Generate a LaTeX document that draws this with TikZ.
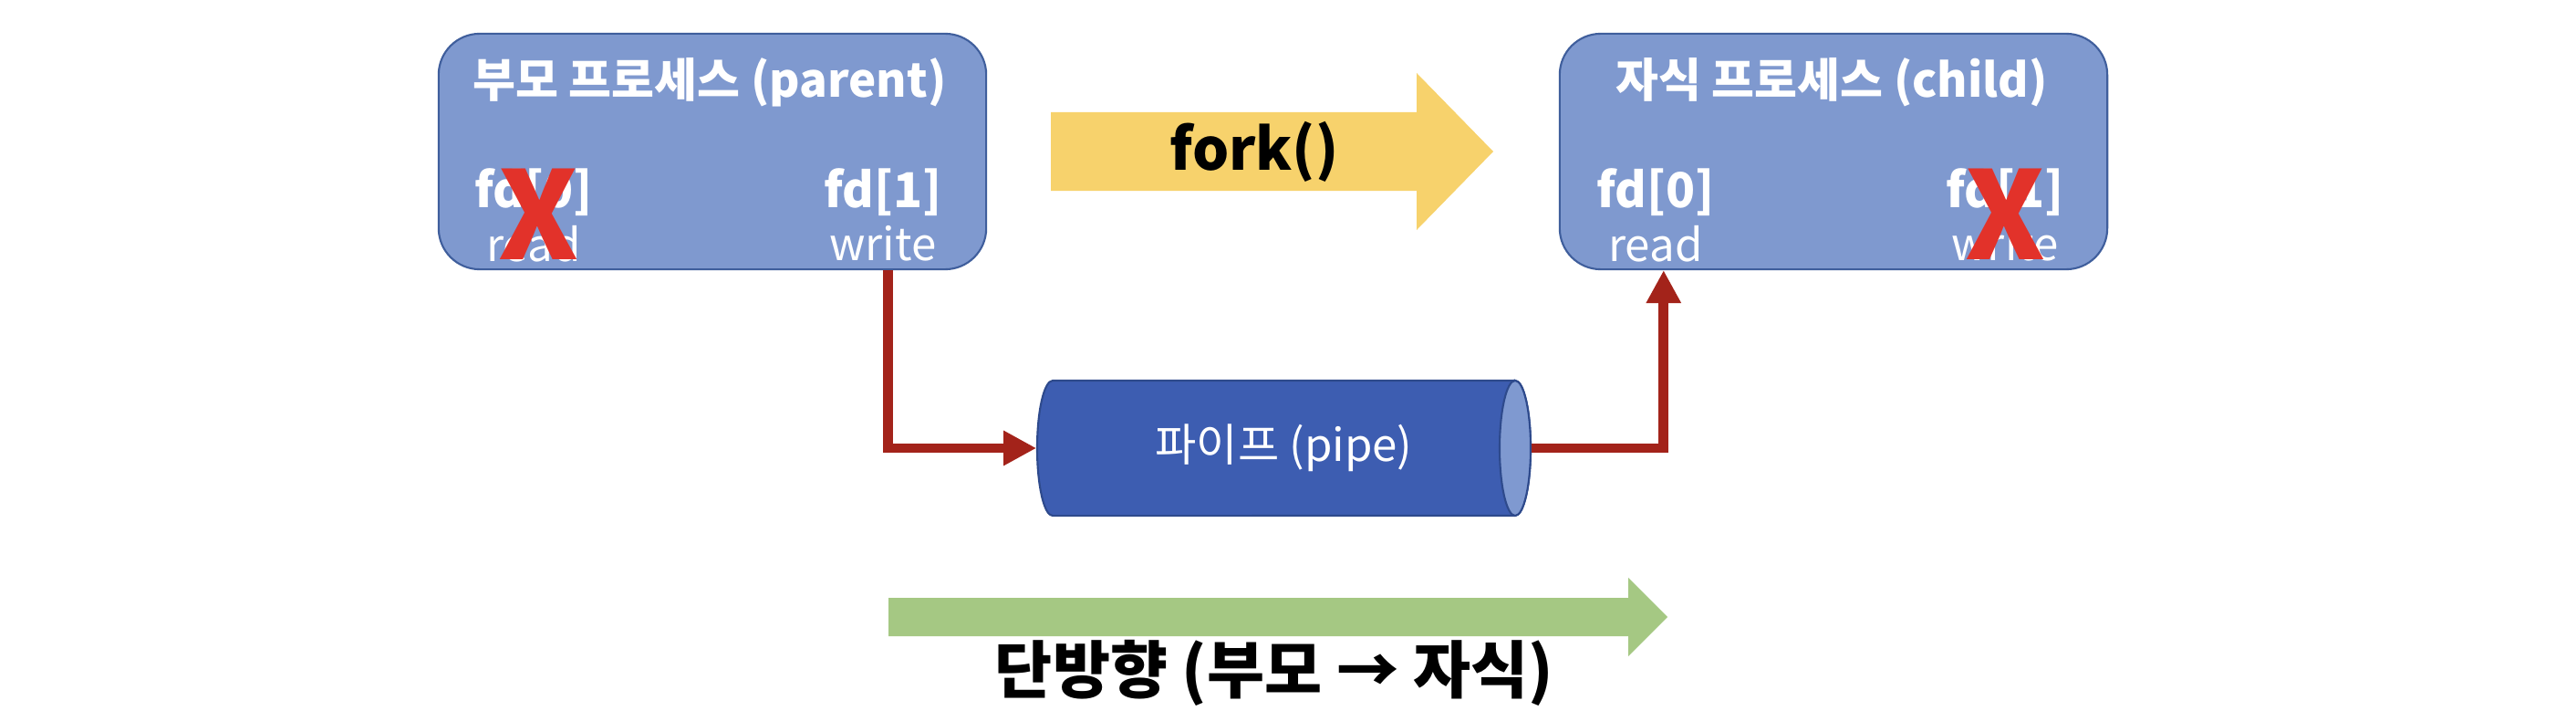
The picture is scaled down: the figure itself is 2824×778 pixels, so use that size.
\documentclass[tikz,border=0pt]{standalone}
\usepackage{fontspec}
\setmainfont{Noto Sans CJK KR}
\definecolor{boxblue}{RGB}{127,153,207}
\definecolor{boxedge}{RGB}{63,94,156}
\definecolor{pipeblue}{RGB}{61,93,177}
\definecolor{pipeedge}{RGB}{46,74,140}
\definecolor{pipeend}{RGB}{127,153,208}
\definecolor{forkyellow}{RGB}{247,210,108}
\definecolor{onewaygreen}{RGB}{165,200,131}
\definecolor{linered}{RGB}{163,35,26}
\definecolor{crossred}{RGB}{226,50,42}
\usetikzlibrary{positioning,arrows.meta,calc}

\begin{document}
\begin{tikzpicture}[x=0.01cm,y=0.01cm,
    procbox/.style={draw=boxedge,line width=0.6pt,fill=boxblue,rounded corners=0.45cm,minimum width=6cm,minimum height=2.58cm},
    proctitle/.style={text=white,font=\fontsize{14.5pt}{16pt}\selectfont\bfseries,inner sep=0pt},
    fdlabel/.style={text=white,font=\fontsize{15pt}{17pt}\selectfont\bfseries,inner sep=0pt},
    rwlabel/.style={text=white,font=\fontsize{14pt}{16pt}\selectfont,inner sep=0pt},
    cross/.style={text=crossred,font=\fontsize{38pt}{40pt}\selectfont\bfseries,inner sep=0pt},
    pipebody/.style={fill=pipeblue,draw=pipeedge,line width=0.6pt},
    pipeface/.style={fill=pipeend,draw=pipeedge,line width=0.6pt},
    pipeline/.style={draw=linered,line width=3.1pt,-{Triangle[width=0.36cm,length=0.36cm]}},
    node distance=0.56cm
    ]
    \useasboundingbox (0,0) rectangle (2824,778);

    % the two processes
    \node[procbox] (parent) at (781,612) {};
    \node[procbox] (child) at (2010,612) {};

    \node[proctitle] (ptitle) at (778,688) {부모 프로세스 (parent)};
    \node[fdlabel] (pfd0) at (585,567) {fd[0]};
    \node[fdlabel] (pfd1) at (968,567) {fd[1]};
    \node[rwlabel] (pread) [below of=pfd0] {read};
    \node[rwlabel] (pwrite) [below of=pfd1] {write};

    \node[proctitle] (ctitle) at (2008,688) {자식 프로세스 (child)};
    \node[fdlabel] (cfd0) at (1815,567) {fd[0]};
    \node[fdlabel] (cfd1) at (2198,567) {fd[1]};
    \node[rwlabel] (cread) [below of=cfd0] {read};
    \node[rwlabel] (cwrite) [below of=cfd1] {write};

    % closed ends
    \node[cross] (pcross) at (590,543) {X};
    \node[cross] (ccross) at (2198,543) {X};

    % fork arrow
    \fill[forkyellow] (1152,655) -- (1553,655) -- (1553,698) -- (1637,612) -- (1553,526) -- (1553,569) -- (1152,569) -- cycle;
    \node[font=\fontsize{18pt}{20pt}\selectfont\bfseries] (fork) at (1375,612) {fork()};

    % the pipe
    \coordinate (pipemid) at (1407.5,287);
    \filldraw[pipebody] ($(pipemid)+(253.5,74)$) -- ($(pipemid)+(-253.5,74)$)
        arc[start angle=90,end angle=270,x radius=0.17cm,y radius=0.74cm]
        -- ($(pipemid)+(253.5,-74)$)
        arc[start angle=-90,end angle=90,x radius=0.17cm,y radius=0.74cm] -- cycle;
    \filldraw[pipeface] ($(pipemid)+(253.5,0)$) ellipse[x radius=0.17cm,y radius=0.74cm];
    \node[rwlabel,minimum width=5.41cm,minimum height=1.48cm] (pipe) at (pipemid) {파이프 (pipe)};

    % the edges
    \coordinate (wout) at ($(parent.south west)+(494,0)$);
    \coordinate (rin) at ($(child.south west)+(115,0)$);
    \draw[pipeline] (wout) |- (pipe.west);
    \draw[pipeline] (pipe.east) -| (rin);

    % direction
    \fill[onewaygreen] (974,123) -- (1785,123) -- (1785,145) -- (1828,102) -- (1785,59) -- (1785,81) -- (974,81) -- cycle;
    \node[font=\fontsize{19.5pt}{21pt}\selectfont\bfseries] (oneway) at (1397,41) {단방향 (부모 → 자식)};
\end{tikzpicture}
\end{document}
